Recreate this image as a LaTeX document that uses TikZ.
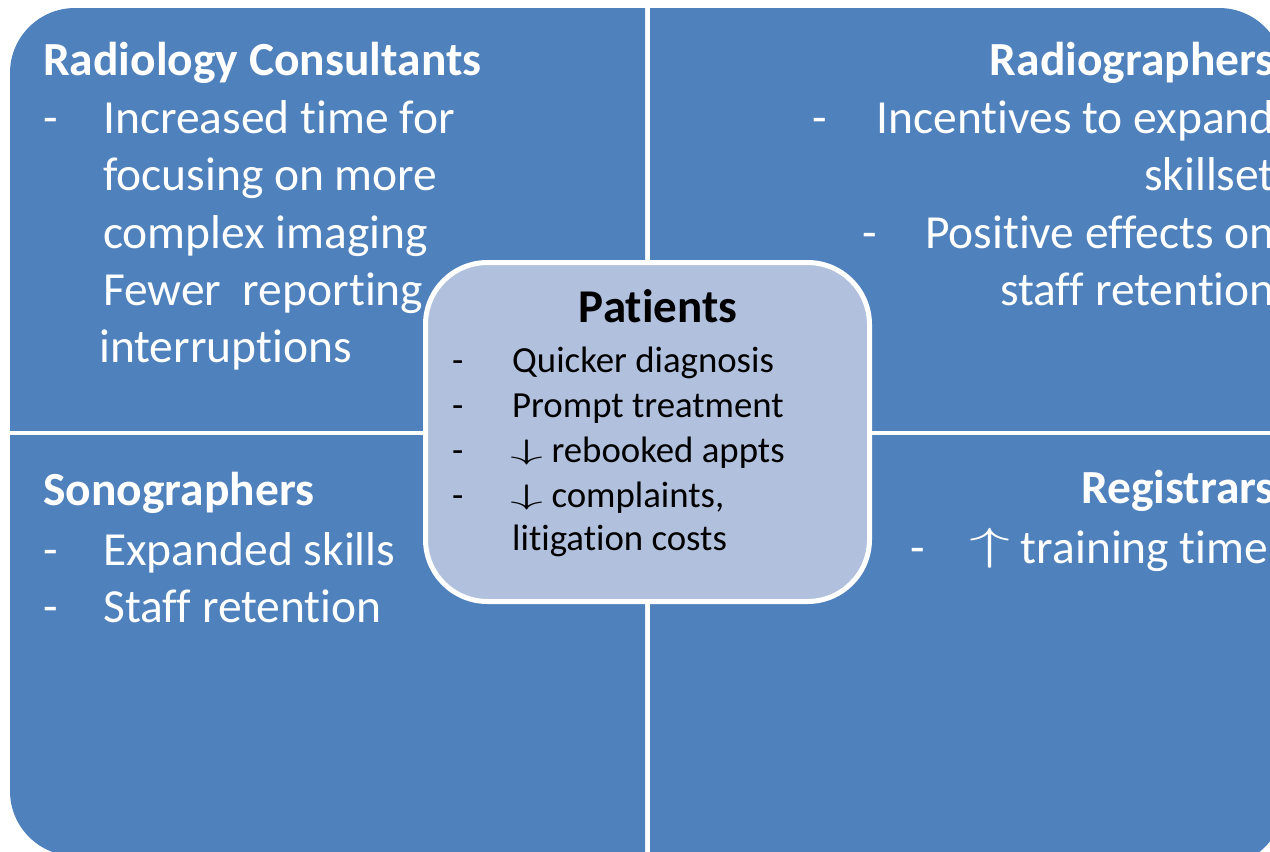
\RequirePackage{fix-cm}
\documentclass[tikz,border=0pt]{standalone}
\usepackage{fontspec}
\setmainfont{Carlito}[Ligatures={NoCommon,NoContextual}, RawFeature={-liga;-clig;-calt;-dlig}]
\usepackage{graphicx}
\definecolor{qblue}{HTML}{4F81BD}
\definecolor{cfill}{HTML}{B1C0DD}
\tikzset{
  qtxt/.style={text=white, inner sep=0pt, font=\fontsize{47.5}{57.5}\selectfont},
  qhead/.style={text=white, inner sep=0pt, font=\fontsize{47.5}{57.5}\selectfont\bfseries},
  ctxt/.style={text=black, inner sep=0pt, font=\fontsize{36.8}{45}\selectfont},
  chead/.style={text=black, inner sep=0pt, font=\fontsize{47}{57}\selectfont\bfseries},
  quad/.style={fill=qblue, rounded corners=65pt},
  centerbox/.style={draw=white, line width=5pt, fill=cfill, rounded corners=62pt},
}
\newcommand{\mydn}{\raisebox{2.5pt}{\resizebox*{33pt}{25pt}{$\downarrow$}}}
\newcommand{\myup}{\raisebox{3.7pt}{\resizebox*{41pt}{40pt}{$\uparrow$}}}
\begin{document}
\begin{tikzpicture}[x=1pt,y=-1pt]
\useasboundingbox (0,0) rectangle (1270,852);
\fill[white] (0,0) rectangle (1270,852);
% quadrants
\begin{scope}
  \clip (0,0) rectangle (645,430);
  \fill[quad] (10,8) rectangle (1284,856);
\end{scope}
\begin{scope}
  \clip (650,0) rectangle (1300,430);
  \fill[quad] (10,8) rectangle (1284,866);
\end{scope}
\begin{scope}
  \clip (0,435) rectangle (645,900);
  \fill[quad] (10,8) rectangle (1284,856);
\end{scope}
\begin{scope}
  \clip (650,435) rectangle (1300,900);
  \fill[quad] (10,8) rectangle (1284,866);
\end{scope}
% top-left
\node[qhead, anchor=base west] (rch) at (43,75) {Radiology Consultants};
\node[qtxt, anchor=base west] (rcd) at (43,133) {-};
\node[qtxt, anchor=base west] (rc1) at (103,133) {Increased time for};
\node[qtxt, anchor=base west] (rc2) at (103,190) {focusing on more};
\node[qtxt, anchor=base west] (rc3) at (103,248) {complex imaging};
\node[qtxt, anchor=base west] (rc4) at (103,305) {Fewer\ \ reporting};
\node[qtxt, anchor=base west] (rc5) at (99,362) {interruptions};
% top-right
\node[qhead, anchor=base east] (rgh) at (1275,75) {Radiographers};
\node[qtxt, anchor=base west] (rgd1) at (812,133) {-};
\node[qtxt, anchor=base east] (rg1) at (1275,133) {Incentives to expand};
\node[qtxt, anchor=base east] (rg2) at (1275,190) {skillset};
\node[qtxt, anchor=base west] (rgd2) at (862,248) {-};
\node[qtxt, anchor=base east] (rg3) at (1275,248) {Positive effects on};
\node[qtxt, anchor=base east] (rg4) at (1275,305) {staff retention};
% bottom-left
\node[qhead, anchor=base west] (soh) at (43,505) {Sonographers};
\node[qtxt, anchor=base west] (sod1) at (43,565) {-};
\node[qtxt, anchor=base west] (so1) at (103,565) {Expanded skills};
\node[qtxt, anchor=base west] (sod2) at (43,622) {-};
\node[qtxt, anchor=base west] (so2) at (103,622) {Staff retention};
% bottom-right
\node[qhead, anchor=base east] (reh) at (1275,503) {Registrars};
\node[qtxt, anchor=base west] (red1) at (910,563) {-};
\node[qtxt, anchor=base west] (re1) at (969,563) {\myup\ training time};
% centre
\draw[centerbox] (425.5,262.5) rectangle (869.5,601.5);
\node[chead, anchor=base] (pth) at (658,322) {Patients};
\node[ctxt, anchor=base west] (ptd1) at (452,372) {-};
\node[ctxt, anchor=base west] (pt1) at (512,372) {Quicker diagnosis};
\node[ctxt, anchor=base west] (ptd2) at (452,417) {-};
\node[ctxt, anchor=base west] (pt2) at (512,417) {Prompt treatment};
\node[ctxt, anchor=base west] (ptd3) at (452,462) {-};
\node[ctxt, anchor=base west] (pt3) at (510,462) {\mydn\ rebooked appts};
\node[ctxt, anchor=base west] (ptd4) at (452,507) {-};
\node[ctxt, anchor=base west] (pt4) at (510,507) {\mydn\ complaints,};
\node[ctxt, anchor=base west] (pt5) at (512,550) {litigation costs};
\end{tikzpicture}
\end{document}
